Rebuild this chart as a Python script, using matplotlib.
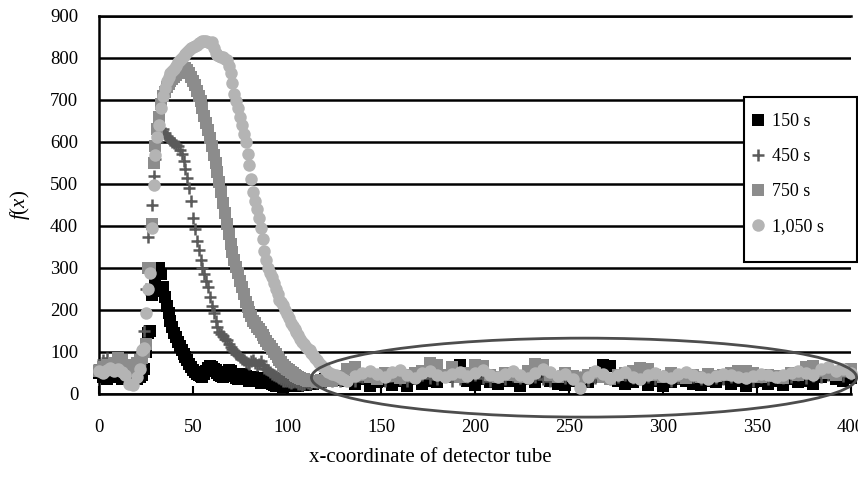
import matplotlib
matplotlib.use('Agg')
import matplotlib.pyplot as plt
from matplotlib.patches import Ellipse, Rectangle

plt.rcParams['font.family'] = ['Liberation Serif', 'DejaVu Serif']
plt.rcParams['mathtext.fontset'] = 'custom'
plt.rcParams['mathtext.it'] = 'Liberation Serif:italic'
plt.rcParams['mathtext.rm'] = 'Liberation Serif'

# detector tube positions (every tube around the peaks)
x_peak = list(range(0, 22, 2)) + list(range(22, 121)) + list(range(122, 131, 2))
x_flat = list(range(132, 401, 4))
x_all = x_peak + x_flat

labels = ['150 s', '450 s', '750 s', '1,050 s']

# f(x)
y_150_peak = [50, 40, 35, 40, 45, 40, 35, 45, 35, 30, 35,
              40, 45, 60, 100, 145, 150, 235, 245, 265, 290,
              300, 285, 255, 232, 210, 192, 175, 160, 145, 135,
              125, 115, 105, 96, 88, 80, 72, 65, 58, 52,
              48, 45, 42, 40, 48, 55, 62, 66, 65, 60,
              58, 50, 45, 42, 40, 46, 52, 58, 55, 48,
              42, 38, 36, 44, 48, 46, 44, 36, 32, 38,
              40, 38, 35, 30, 26, 32, 38, 34, 30, 27,
              24, 22, 20, 24, 28, 20, 16, 18, 22, 20,
              18, 22, 25, 22, 20, 24, 28, 25, 22, 26,
              30, 28, 25, 28, 32, 30, 28, 32, 35,
              30, 38, 33, 40, 36]
y_150_flat = [30, 25, 35, 20, 28, 32, 22, 30, 18, 35,
              25, 30, 28, 40, 62, 68, 30, 22, 35, 28,
              25, 32, 30, 20, 35, 28, 40, 30, 25, 22,
              30, 35, 28, 40, 70, 66, 30, 25, 28, 35,
              22, 30, 18, 28, 35, 30, 25, 22, 30, 28,
              35, 25, 30, 20, 28, 32, 25, 30, 22, 35,
              28, 30, 25, 40, 45, 35, 30, 38]

y_450_peak = [70, 80, 85, 75, 60, 70, 65, 55, 50, 60, 85,
              70, 90, 150, 250, 375, 400, 450, 520, 560, 600,
              615, 625, 630, 622, 615, 610, 605, 600, 598, 594,
              590, 580, 572, 555, 535, 515, 490, 460, 420, 392,
              365, 342, 318, 300, 285, 270, 255, 232, 210, 192,
              175, 160, 148, 142, 138, 132, 128, 120, 112, 106,
              102, 96, 92, 88, 84, 80, 76, 74, 72, 78,
              82, 74, 68, 72, 78, 70, 62, 60, 58, 52,
              48, 45, 42, 40, 38, 35, 32, 31, 30, 28,
              26, 29, 32, 28, 25, 23, 22, 25, 28, 26,
              24, 27, 30, 28, 26, 29, 32, 30, 28,
              35, 30, 38, 32, 40]
y_450_flat = [35, 30, 40, 45, 38, 32, 42, 36, 30, 40,
              45, 38, 35, 42, 30, 36, 40, 45, 38, 32,
              40, 35, 42, 38, 45, 40, 36, 30, 42, 38,
              35, 40, 32, 38, 42, 36, 40, 45, 38, 35,
              40, 36, 42, 30, 38, 45, 40, 35, 42, 38,
              36, 40, 45, 38, 32, 40, 36, 42, 38, 40,
              45, 38, 42, 40, 45, 50, 42, 48]

y_750_peak = [55, 65, 70, 60, 75, 85, 80, 65, 55, 70, 75,
              80, 85, 100, 120, 300, 300, 405, 550, 590, 630,
              660, 690, 710, 720, 730, 738, 745, 750, 755, 760,
              765, 768, 772, 774, 776, 772, 765, 755, 745, 735,
              722, 710, 698, 680, 662, 645, 628, 610, 590, 570,
              550, 528, 505, 480, 455, 430, 405, 380, 358, 338,
              318, 302, 288, 270, 255, 238, 220, 208, 195, 185,
              175, 168, 160, 154, 148, 140, 133, 126, 120, 114,
              108, 101, 95, 88, 82, 76, 70, 65, 60, 56,
              52, 49, 46, 43, 40, 38, 36, 35, 34, 32,
              30, 31, 32, 30, 28, 31, 34, 32, 30,
              36, 32, 40, 36, 42]
y_750_flat = [60, 65, 45, 40, 35, 50, 42, 38, 45, 50,
              55, 75, 70, 45, 65, 40, 50, 68, 66, 45,
              40, 50, 45, 40, 55, 72, 70, 45, 40, 50,
              42, 38, 45, 50, 40, 35, 45, 50, 55, 62,
              60, 45, 40, 50, 42, 38, 45, 40, 48, 42,
              45, 50, 55, 55, 50, 40, 45, 42, 38, 50,
              45, 65, 66, 55, 50, 45, 55, 60]

y_1050_peak = [55, 50, 58, 62, 55, 60, 52, 45, 25, 22, 40,
               60, 105, 110, 193, 250, 288, 395, 498, 569, 612,
               640, 680, 710, 728, 745, 755, 765, 770, 775, 782,
               790, 795, 800, 805, 810, 815, 820, 823, 826, 829,
               832, 835, 838, 840, 840, 840, 838, 836, 838, 825,
               812, 808, 805, 803, 802, 798, 795, 780, 764, 740,
               715, 698, 680, 660, 640, 620, 600, 572, 545, 512,
               480, 460, 440, 418, 395, 368, 340, 320, 300, 288,
               278, 264, 250, 238, 225, 218, 212, 200, 190, 180,
               170, 162, 155, 148, 140, 132, 125, 118, 112, 108,
               104, 98, 92, 86, 80, 75, 70, 65, 60,
               52, 48, 45, 40, 35]
y_1050_flat = [30, 42, 50, 55, 48, 40, 52, 58, 45, 38,
               50, 55, 45, 40, 48, 52, 42, 50, 58, 45,
               40, 48, 55, 45, 38, 50, 60, 52, 42, 48,
               35, 15, 40, 55, 48, 38, 45, 52, 40, 35,
               45, 50, 42, 38, 48, 52, 45, 40, 35, 42,
               48, 45, 40, 38, 42, 48, 45, 40, 45, 50,
               55, 50, 45, 60, 65, 55, 60, 50]

series = [y_150_peak + y_150_flat, y_450_peak + y_450_flat,
          y_750_peak + y_750_flat, y_1050_peak + y_1050_flat]
styles = [dict(marker='s', color='black', ms=8, mew=0),
          dict(marker='+', color='#5a5a5a', ms=8, mew=1.8),
          dict(marker='s', color='#8c8c8c', ms=8.5, mew=0),
          dict(marker='o', color='#b4b4b4', ms=9, mew=0)]

fig = plt.figure(figsize=(8.58, 4.88), dpi=100)
ax = fig.add_axes([99 / 858, 1 - 394 / 488, 752 / 858, 378 / 488])

handles = []
for ys, st, lab in zip(series, styles, labels):
    h, = ax.plot(x_all, ys, linestyle='none', label=lab, clip_on=False, zorder=3, **st)
    handles.append(h)

# circled baseline region
ell = Ellipse((258, 39), 290, 188, fill=False, edgecolor='#4d4d4d', lw=2, clip_on=False, zorder=6)
ax.add_patch(ell)

ax.set_xlim(0, 400)
ax.set_ylim(0, 900)
ax.set_xticks(range(0, 401, 50))
ax.set_yticks(range(0, 901, 100))
ax.yaxis.grid(True, color='black', lw=1.8)
ax.set_axisbelow(True)
for s in ['left', 'bottom', 'top']:
    ax.spines[s].set_linewidth(1.8)
    ax.spines[s].set_color('black')
ax.spines['right'].set_visible(False)
ax.tick_params(axis='x', direction='in', length=6, width=1.5, pad=18, labelsize=13.5)
ax.tick_params(axis='y', length=0, pad=15, labelsize=13.5)

ax.set_xlabel('x-coordinate of detector tube', fontsize=15)
ax.xaxis.set_label_coords(0.44, -0.143)
ax.set_ylabel('$f$($x$)', fontsize=15)
ax.yaxis.set_label_coords(-0.089, 0.5)

# legend box
fig.add_artist(Rectangle((744 / 858, 1 - 262 / 488), 113 / 858, 165 / 488,
                         transform=fig.transFigure, facecolor='white',
                         edgecolor='black', lw=1.5, zorder=4))
fig.legend(handles=handles, labels=labels, loc='upper left',
           bbox_to_anchor=(745 / 858, 1 - 106 / 488), frameon=False,
           fontsize=13, handlelength=0.6, handletextpad=0.5,
           labelspacing=1.0, borderaxespad=0, borderpad=0.4)

fig.savefig('out.png', dpi=100)
